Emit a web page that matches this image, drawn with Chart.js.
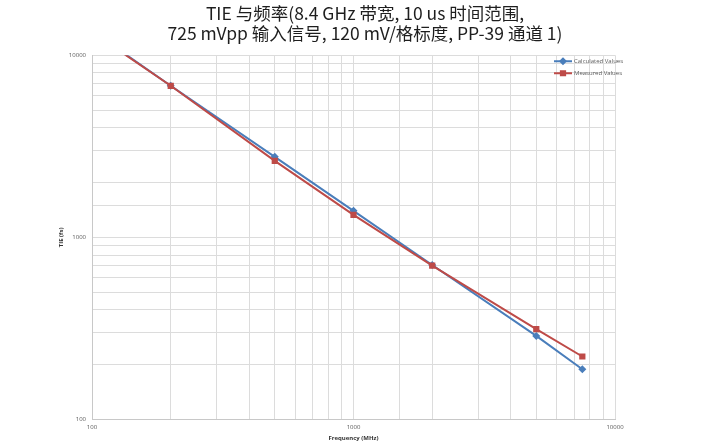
<!DOCTYPE html>
<html>
<head>
<meta charset="utf-8">
<script src="https://cdn.jsdelivr.net/npm/chart.js@4"></script>
<style>
  html, body { margin: 0; padding: 0; background: #fff; }
  #wrap { width: 720px; height: 447px; }
</style>
</head>
<body>
<div id="wrap"><canvas id="tie"></canvas></div>
<script>
// frequency in MHz, TIE in fs
const frequencies = [100, 200, 500, 1000, 2000, 5000, 7500];
const calculatedValues = [13600, 6800, 2770, 1400, 706, 288, 189];
const measuredValues = [13400, 6800, 2630, 1330, 700, 314, 222];
const titleLines = ["TIE 与频率(8.4 GHz 带宽, 10 us 时间范围,", "725 mVpp 输入信号, 120 mV/格标度, PP-39 通道 1)"];
const majorTicks = [100, 1000, 10000];

const blue = "#4a7ebb";
const red = "#be4b48";

//draws the legend inside the plot, top right
const insideLegend = {
    id: "insideLegend",
    afterDraw(chart){
        const ctx = chart.ctx;
        const area = chart.chartArea;
        let x = area.right - 61;
        let y = area.top + 6;
        ctx.save();
        ctx.font = "6px 'Open Sans'";
        ctx.textBaseline = "middle";
        chart.data.datasets.forEach(ds => {
            ctx.strokeStyle = ds.borderColor;
            ctx.lineWidth = 2;
            ctx.beginPath();
            ctx.moveTo(x, y);
            ctx.lineTo(x + 18, y);
            ctx.stroke();
            Chart.helpers.drawPoint(ctx, {pointStyle: ds.pointStyle, radius: ds.pointRadius, borderWidth: 1}, x + 9, y);
            ctx.fillStyle = ds.borderColor;
            ctx.fill();
            ctx.fillStyle = "#595959";
            ctx.fillText(ds.label, x + 20, y);
            y += 12;
        });
        ctx.restore();
    }
};

const pointsOf = (vals) => frequencies.map((f, i) => ({x: f, y: vals[i]}));

new Chart(document.getElementById("tie"), {
    type: "line",
    data: {
        datasets: [
            {
                label: "Calculated Values",
                data: pointsOf(calculatedValues),
                borderColor: blue,
                backgroundColor: blue,
                borderWidth: 2,
                pointStyle: "rectRot",
                pointRadius: 2.6,
                tension: 0,
                order: 1
            },
            {
                label: "Measured Values",
                data: pointsOf(measuredValues),
                borderColor: red,
                backgroundColor: red,
                borderWidth: 2,
                pointStyle: "rect",
                pointRadius: 3,
                tension: 0,
                order: 0
            }
        ]
    },
    options: {
        responsive: true,
        maintainAspectRatio: false,
        animation: false,
        layout: { padding: { left: 20, right: 10, top: 0, bottom: 5 } },
        plugins: {
            legend: { display: false },
            tooltip: { enabled: false },
            title: {
                display: true,
                text: titleLines,
                color: "#1e1e1e",
                font: { family: "'Noto Sans CJK SC'", size: 17.5, weight: "normal", lineHeight: 1.15 },
                padding: { top: 3, bottom: 12 }
            }
        },
        scales: {
            x: {
                type: "logarithmic",
                min: 100,
                max: 10000,
                border: { color: "#c8c8c8" },
                grid: { color: "#dcdcdc", drawTicks: false },
                ticks: {
                    autoSkip: false,
                    maxRotation: 0,
                    padding: 4,
                    color: "#595959",
                    font: { family: "'Open Sans'", size: 6 },
                    callback: (v) => majorTicks.includes(v) ? String(v) : ""
                },
                title: {
                    display: true,
                    text: "Frequency (MHz)",
                    color: "#333",
                    font: { family: "'Open Sans'", size: 6, weight: "bold" },
                    padding: { top: 0, bottom: 0 }
                }
            },
            y: {
                type: "logarithmic",
                min: 100,
                max: 10000,
                border: { color: "#c8c8c8" },
                grid: { color: "#dcdcdc", drawTicks: false },
                afterFit: (s) => { s.width = 72; },
                ticks: {
                    autoSkip: false,
                    padding: 6,
                    color: "#595959",
                    font: { family: "'Open Sans'", size: 6 },
                    callback: (v) => majorTicks.includes(v) ? String(v) : ""
                },
                title: {
                    display: true,
                    text: "TIE (fs)",
                    color: "#333",
                    font: { family: "'Open Sans'", size: 6, weight: "bold" },
                    padding: { top: 38, bottom: 0 }
                }
            },
            // empty right axis, only keeps room so the plot ends where the original does
            spacer: {
                position: "right",
                display: true,
                grid: { display: false, drawTicks: false },
                border: { display: false },
                ticks: { display: false },
                afterFit: (s) => { s.width = 95; }
            }
        }
    },
    plugins: [insideLegend]
});
</script>
</body>
</html>
